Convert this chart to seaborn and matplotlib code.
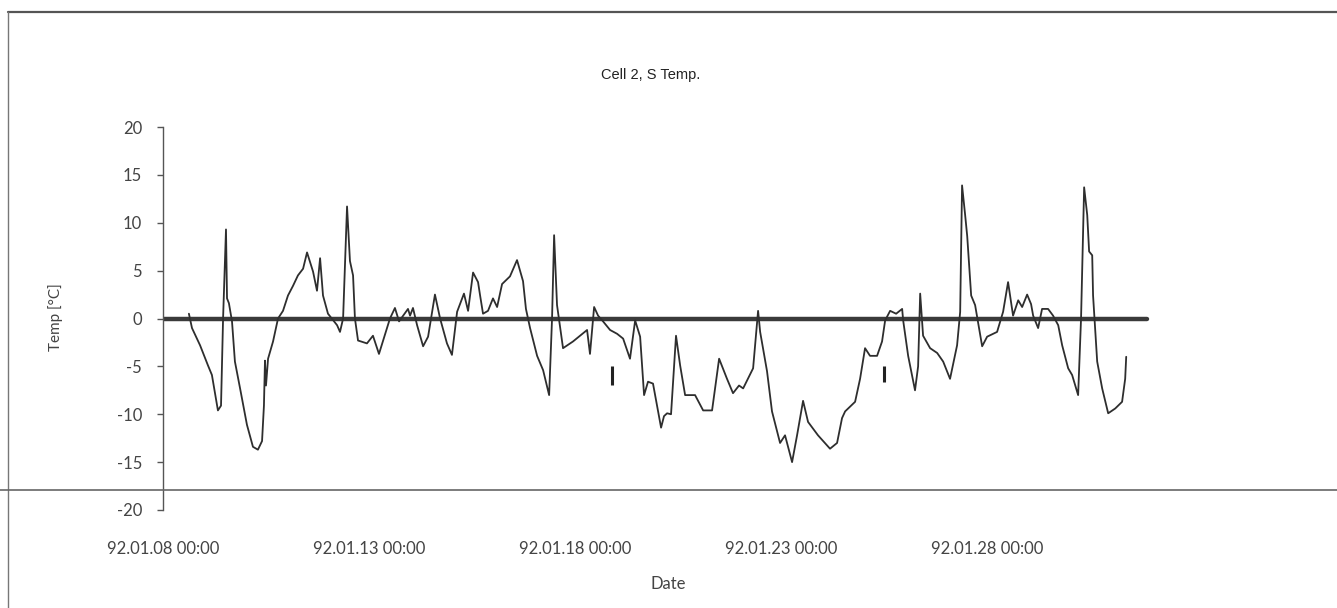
import pandas as pd
import matplotlib
matplotlib.use('Agg')
import matplotlib.pyplot as plt
import matplotlib.dates as md
from matplotlib.lines import Line2D
import seaborn as sns

start = pd.Timestamp('1992-01-08 00:00')

# hours since 92.01.08 00:00 and S temperature [C] of cell 2
elapsed_hours = [15.1, 16.9, 21.6, 26.2, 28.5, 32.0, 33.8, 35.0, 36.7, 37.3, 38.4, 40.2, 41.9, 44.9,
                 48.9, 52.4, 55.3, 57.7, 58.8, 59.4, 60.0, 61.2, 64.1, 67.0, 69.9, 72.8, 75.7, 78.6,
                 81.6, 83.9, 87.4, 89.7, 91.5, 93.2, 96.1, 101.4, 103.1, 104.9, 107.2, 108.9, 110.7,
                 111.3, 111.8, 113.6, 118.8, 122.3, 125.8, 128.2, 132.2, 135.1, 137.5, 142.7, 143.9,
                 145.6, 148.0, 151.5, 154.4, 158.4, 161.4, 165.4, 168.3, 171.3, 175.3, 177.7, 180.6,
                 183.5, 184.7, 186.4, 189.3, 192.2, 194.6, 197.5, 202.1, 206.2, 209.7, 211.4, 213.8,
                 217.9, 221.4, 224.9, 226.6, 227.8, 229.5, 233.0, 238.8, 247.0, 248.7, 251.1, 253.4,
                 256.3, 260.4, 264.5, 268.0, 272.0, 275.0, 277.9, 280.2, 282.5, 285.4, 290.1, 291.8,
                 293.6, 295.9, 298.8, 301.2, 304.1, 309.9, 314.6, 319.8, 323.9, 328.5, 332.0, 335.5,
                 337.9, 343.7, 346.6, 347.8, 351.8, 354.7, 359.4, 362.3, 366.4, 369.3, 372.8, 375.7,
                 381.5, 388.5, 392.6, 395.5, 397.3, 403.1, 406.0, 408.9, 411.8, 415.9, 418.8, 420.6,
                 423.5, 427.0, 430.5, 431.1, 434.0, 438.0, 439.8, 441.0, 442.7, 446.8, 450.9, 454.4,
                 458.4, 462.5, 464.3, 465.4, 467.2, 468.4, 470.7, 473.0, 477.1, 480.0, 485.8, 489.3,
                 492.2, 495.1, 498.1, 500.4, 503.3, 505.6, 506.8, 509.7, 512.0, 515.5, 518.4, 521.4,
                 523.7, 527.2, 529.5, 533.0, 534.7, 536.5, 538.3, 539.4, 541.2, 541.7, 544.1, 547.0,
                 550.5, 554.6, 558.6, 560.4, 561.0]
s_temp = [0.5, -1.0, -2.8, -4.9, -5.9, -9.6, -9.1, 0.0, 9.3, 2.1, 1.6, -0.3, -4.5, -7.3,
          -11.1, -13.4, -13.7, -12.8, -9.1, -4.4, -7.0, -4.2, -2.4, 0.0, 0.8, 2.4, 3.4, 4.5,
          5.2, 6.9, 4.9, 2.9, 6.3, 2.4, 0.5, -0.7, -1.4, 0.0, 11.7, 6.0, 4.5,
          2.0, 0.0, -2.3, -2.6, -1.8, -3.7, -2.3, 0.0, 1.1, -0.3, 1.0, 0.3,
          1.1, -0.7, -2.9, -1.9, 2.5, 0.0, -2.6, -3.8, 0.7, 2.6, 0.8, 4.8,
          3.8, 2.4, 0.5, 0.8, 2.1, 1.2, 3.6, 4.4, 6.1, 3.9, 1.0, -1.0,
          -3.9, -5.4, -8.0, 0.0, 8.7, 1.4, -3.1, -2.4, -1.2, -3.7, 1.2, 0.3,
          -0.3, -1.2, -1.6, -2.1, -4.2, -0.2, -1.9, -8.0, -6.6, -6.8, -11.4, -10.2,
          -9.9, -10.0, -1.8, -4.9, -8.0, -8.0, -9.6, -9.6, -4.2, -6.3, -7.8, -7.0,
          -7.3, -5.2, 0.8, -1.4, -5.5, -9.7, -13.0, -12.2, -15.0, -12.2, -8.6, -10.8,
          -12.2, -13.6, -13.0, -10.4, -9.7, -8.7, -6.3, -3.1, -3.9, -3.9, -2.4, -0.2,
          0.8, 0.5, 1.0, -0.2, -3.9, -7.5, -5.0, 2.6, -1.8, -3.1, -3.6, -4.5,
          -6.3, -2.8, 0.7, 13.9, 10.8, 8.6, 2.4, 1.4, -2.9, -1.9, -1.4, 0.7,
          3.8, 0.3, 1.9, 1.2, 2.5, 1.5, 0.3, -1.0, 1.0, 1.0, 0.3, -0.7,
          -2.8, -5.2, -5.9, -8.0, 0.0, 13.7, 10.8, 7.0, 6.6, 2.4, -4.5, -7.3,
          -9.9, -9.4, -8.7, -6.3, -4.0]

# reference (zero) trace
ref_times = ['1992-01-08 00:00', '1992-01-31 21:00']
ref_temp = [0.0, 0.0]

# small pen marks on the chart
mark_hours = [261.5, 420.0]
mark_low = [-6.9, -6.6]
mark_high = [-5.0, -5.0]

tick_dates = ['1992-01-08', '1992-01-13', '1992-01-18', '1992-01-23', '1992-01-28']
y_ticks = [20, 15, 10, 5, 0, -5, -10, -15, -20]

df = pd.DataFrame({'Date': start + pd.to_timedelta(elapsed_hours, unit='h'), 'Temp': s_temp})
ref = pd.DataFrame({'Date': pd.to_datetime(ref_times), 'Temp': ref_temp})

sns.set_style('white')
plt.rcParams['font.family'] = ['Lato', 'DejaVu Sans']
plt.rcParams['axes.unicode_minus'] = False

fig = plt.figure(figsize=(13.37, 6.08), dpi=100)
ax = fig.add_axes([0.1219, 0.1612, 0.7397, 0.6299])

sns.lineplot(data=ref, x='Date', y='Temp', ax=ax, color='#3a3a3a', linewidth=3.2)
sns.lineplot(data=df, x='Date', y='Temp', ax=ax, color='#2e2e2e', linewidth=1.3)
ax.vlines(start + pd.to_timedelta(mark_hours, unit='h'), mark_low, mark_high,
          color='#222222', linewidth=2.2)

ax.set_ylim(-20, 20)
ax.set_xlim(start, pd.Timestamp('1992-02-01 00:00'))
ax.set_yticks(y_ticks)
ax.set_xticks(pd.to_datetime(tick_dates))
ax.xaxis.set_major_formatter(md.DateFormatter('%y.%m.%d %H:%M'))

for side in ['top', 'right', 'bottom']:
    ax.spines[side].set_visible(False)
ax.spines['left'].set_color('#555555')
ax.spines['left'].set_linewidth(1.0)
ax.tick_params(axis='y', left=True, length=4, width=1, color='#555555', pad=11,
               labelsize=12, labelcolor='#444444')
ax.tick_params(axis='x', bottom=False, length=0, pad=22, labelsize=12, labelcolor='#444444')

ax.set_xlabel('Date', fontsize=12, color='#444444')
ax.xaxis.set_label_coords(0.511, -0.172)
ax.set_ylabel('Temp [°C]', fontsize=11, color='#444444')
ax.yaxis.set_label_coords(-0.101, 0.504)

fig.text(651 / 1337, 1 - 75 / 608, 'Cell 2, S Temp.', ha='center', va='center',
         fontsize=10.5, color='#222222', family=['Liberation Sans', 'DejaVu Sans'])

# scanned page border lines
fig.add_artist(Line2D([8 / 1337, 1.0], [1 - 12 / 608, 1 - 12 / 608], color='#555555', linewidth=1.6))
fig.add_artist(Line2D([8 / 1337, 8 / 1337], [0.0, 1 - 12 / 608], color='#777777', linewidth=1.0))
fig.add_artist(Line2D([0.0, 1.0], [1 - 490 / 608, 1 - 490 / 608], color='#666666', linewidth=1.2))

fig.savefig('out.png', dpi=100)
